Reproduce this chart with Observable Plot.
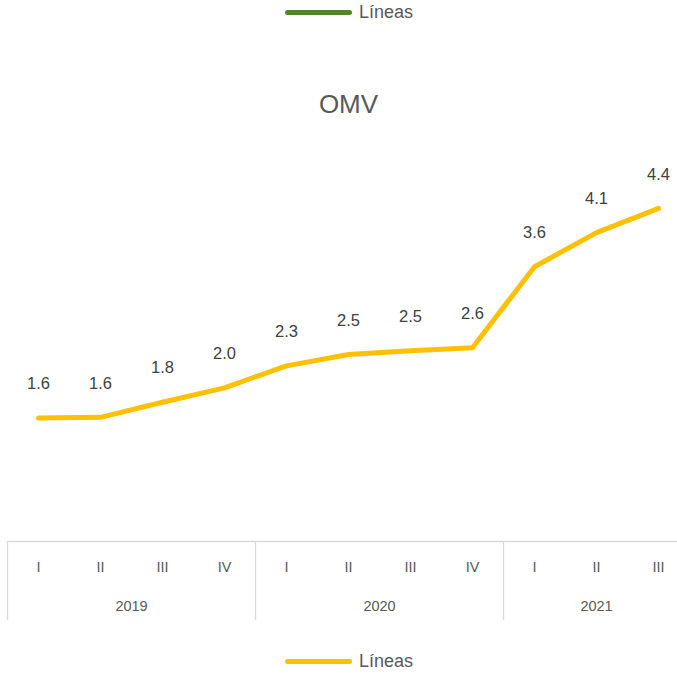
<!DOCTYPE html>
<html>
<head>
<meta charset="utf-8">
<script src="https://cdn.jsdelivr.net/npm/d3@7"></script>
<script src="https://cdn.jsdelivr.net/npm/@observablehq/plot@0.6"></script>
<style>
  body { margin: 0; background: #fff; font-family: "Liberation Sans", Arial, sans-serif; }
  #wrap { position: relative; width: 677px; height: 679px; overflow: hidden; }
  .legend { position: absolute; left: 0; width: 677px; height: 24px; }
  .legend .sw { position: absolute; left: 285px; width: 67px; height: 5px; border-radius: 3px; }
  .legend .lb { position: absolute; left: 359px; font-size: 18px; color: #595959; line-height: 24px; top: 0; }
</style>
</head>
<body>
<div id="wrap">
  <div id="chart"></div>
  <div class="legend" style="top:0px"><div class="sw" style="top:10px;background:#548235"></div><div class="lb">Líneas</div></div>
  <div class="legend" style="top:649px"><div class="sw" style="top:10px;background:#FFC000"></div><div class="lb">Líneas</div></div>
</div>
<script>
const title = "OMV";
const quarters = ["I","II","III","IV","I","II","III","IV","I","II","III"];
const quarterYear = ["2019","2019","2019","2019","2020","2020","2020","2020","2021","2021","2021"];
const years = ["2019","2020","2021"];
const values = [1.63, 1.64, 1.84, 2.03, 2.32, 2.47, 2.52, 2.56, 3.63, 4.08, 4.40];

const data = values.map((v, i) => ({i, v, q: quarters[i], y: quarterYear[i], label: v.toFixed(1)}));
const yearData = years.map(yr => {
  const idx = data.filter(d => d.y === yr).map(d => d.i);
  return {yr, start: d3.min(idx) - 0.5, end: d3.max(idx) + 0.5};
}).map(d => ({...d, center: (d.start + d.end) / 2}));
const separators = [-0.5, ...yearData.slice(1).map(d => d.start)];

const chart = Plot.plot({
  width: 677,
  height: 679,
  marginTop: 0,
  marginLeft: 7,
  marginRight: 0,
  marginBottom: 59,
  style: {fontFamily: "Liberation Sans, Arial, sans-serif", background: "white"},
  x: {type: "linear", domain: [-0.5, 10.5], range: [7, 689], axis: null},
  y: {domain: [0, 5], range: [541, 162.5], axis: null},
  marks: [
    Plot.ruleY([0], {stroke: "#d9d9d9", strokeWidth: 1.3}),
    Plot.ruleX(separators, {stroke: "#d9d9d9", strokeWidth: 1.3, insetTop: 541}),
    Plot.line(data, {x: "i", y: "v", stroke: "#FFC000", strokeWidth: 5, strokeLinecap: "round", strokeLinejoin: "round"}),
    Plot.text(data, {x: "i", y: "v", text: "label", dy: -34, fontSize: 16.5, fill: "#404040"}),
    Plot.text(data, {x: "i", y: () => 0, text: "q", dy: 26, fontSize: 14.5, fill: "#595959"}),
    Plot.text(yearData, {x: "center", y: () => 0, text: "yr", dy: 65, fontSize: 14.5, fill: "#595959"}),
    Plot.text([title], {x: () => 5, frameAnchor: "top", lineAnchor: "middle", dy: 104, fontSize: 26, fill: "#595959"})
  ]
});
document.getElementById("chart").appendChild(chart);
</script>
</body>
</html>
